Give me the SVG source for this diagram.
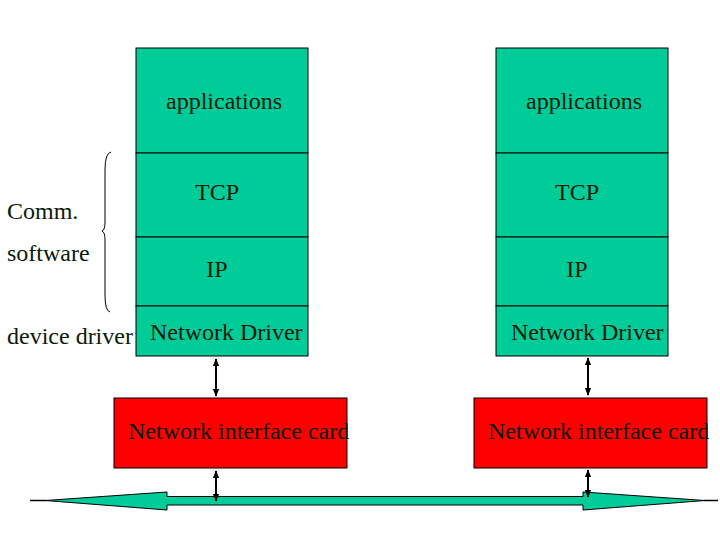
<svg xmlns="http://www.w3.org/2000/svg" width="720" height="540" viewBox="0 0 720 540">
<defs>
<style>
.layer{fill:#00CC99;stroke:#000;stroke-width:1}
.nic{fill:#FF0000;stroke:#000;stroke-width:1}
text{font-family:'Liberation Serif','Times New Roman','DejaVu Serif',serif;font-size:24px;fill:#0a1a0a}
.conn{stroke:#000;stroke-width:2;fill:none;marker-start:url(#ah);marker-end:url(#ah)}
</style>
<marker id="ah" viewBox="0 0 10 10" refX="9" refY="5" markerWidth="4" markerHeight="4" orient="auto-start-reverse">
<path d="M0,1 L10,5 L0,9 z" fill="#000"/>
</marker>
</defs>
<rect width="720" height="540" fill="#fff"/>
<g id="left-stack" font-family="Liberation Serif, serif">
<g id="l-app"><rect class="layer" x="136" y="48" width="172" height="105"/><text x="224" y="109" text-anchor="middle">applications</text></g>
<g id="l-tcp"><rect class="layer" x="136" y="153" width="172" height="84"/><text x="217" y="200" text-anchor="middle">TCP</text></g>
<g id="l-ip"><rect class="layer" x="136" y="237" width="172" height="69"/><text x="217" y="277" text-anchor="middle">IP</text></g>
<g id="l-drv"><rect class="layer" x="136" y="306" width="172" height="50"/><text x="150" y="340">Network Driver</text></g>
</g>
<g id="right-stack">
<g id="r-app"><rect class="layer" x="496" y="48" width="172" height="105"/><text x="584" y="109" text-anchor="middle">applications</text></g>
<g id="r-tcp"><rect class="layer" x="496" y="153" width="172" height="84"/><text x="577" y="200" text-anchor="middle">TCP</text></g>
<g id="r-ip"><rect class="layer" x="496" y="237" width="172" height="69"/><text x="577" y="277" text-anchor="middle">IP</text></g>
<g id="r-drv"><rect class="layer" x="496" y="306" width="172" height="50"/><text x="511" y="340">Network Driver</text></g>
</g>
<g id="l-nic"><rect class="nic" x="114" y="398" width="233" height="70"/><text x="128" y="439">Network interface card</text></g>
<g id="r-nic"><rect class="nic" x="474" y="398" width="233" height="70"/><text x="488" y="439">Network interface card</text></g>
<g id="bus">
<line x1="30" y1="500.5" x2="46" y2="500.5" stroke="#000" stroke-width="1.5"/>
<line x1="704" y1="500.5" x2="718" y2="500.5" stroke="#000" stroke-width="1.5"/>
<path d="M45,500.5 L167,492 L167,496.5 L583,496.5 L583,492 L705,500.5 L583,510 L583,505 L167,505 L167,510 Z" fill="#00CC99" stroke="#000" stroke-width="1"/>
</g>
<g id="labels">
<text x="7" y="219">Comm.</text>
<text x="7" y="261">software</text>
<text x="7" y="344">device driver</text>
<path d="M111,152 Q105,153 105,170 L105,222 Q105,230 102,231 Q105,232 105,240 L105,295 Q105,311 110,312" fill="none" stroke="#000" stroke-width="1"/>
</g>
<g id="connectors">
<line class="conn" x1="216" y1="359" x2="216" y2="396"/>
<line class="conn" x1="216" y1="471" x2="216" y2="501"/>
<line class="conn" x1="588" y1="358" x2="588" y2="395"/>
<line class="conn" x1="588" y1="470" x2="588" y2="497"/>
</g>
</svg>
